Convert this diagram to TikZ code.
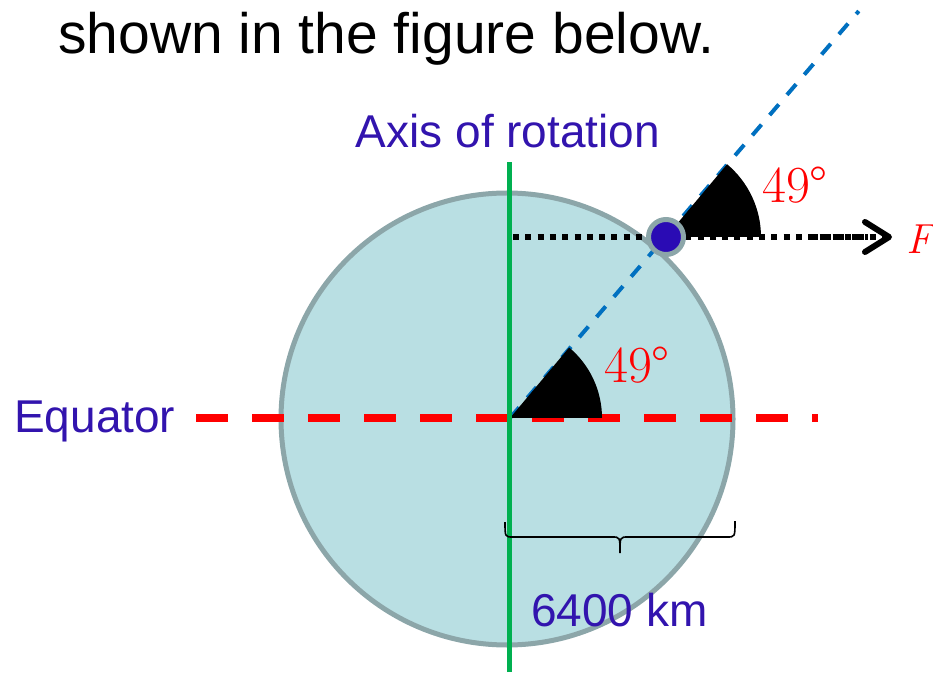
\documentclass[tikz,border=0pt]{standalone}
\usepackage{fontspec}
\newfontfamily\arialfont{Liberation Sans}
\usetikzlibrary{arrows.meta}
\definecolor{earthfill}{HTML}{B9DFE3}
\definecolor{earthedge}{HTML}{8CA6A9}
\definecolor{axisgreen}{HTML}{00B050}
\definecolor{axisblue}{HTML}{0070C0}
\definecolor{textblue}{HTML}{3214AE}
\definecolor{dotblue}{HTML}{2A0BB4}
\tikzset{
  bluetext/.style={font=\arialfont\fontsize{46}{52}\selectfont, text=textblue, inner sep=0pt, anchor=base west},
  angletext/.style={font=\fontsize{52}{56}\selectfont, text=red, inner sep=0pt, anchor=base west},
  earth/.style={circle, fill=earthfill, draw=earthedge, line width=5pt, minimum size=452pt, inner sep=0pt},
  equatorline/.style={red, line width=8.5pt, dash pattern=on 32pt off 24pt},
  incline/.style={axisblue, line width=4pt, dash pattern=on 14pt off 12.6pt},
  rotaxis/.style={axisgreen, line width=5pt},
  wedge/.style={fill=black},
  dotline/.style={line width=6pt, dash pattern=on 6pt off 6.3pt},
  denseline/.style={line width=6pt, dash pattern=on 5pt off 1.5pt},
  forcetip/.style={-{Straight Barb[length=24pt,width=30pt,line width=6pt,round]}},
  massdot/.style={circle, fill=dotblue, draw=earthedge, line width=5pt, minimum size=35pt, inner sep=0pt},
  radiusbrace/.style={line width=1.6pt}
}
\begin{document}
\begin{tikzpicture}[x=1pt,y=1pt]
\useasboundingbox (0,0) rectangle (933,672);
% earth
\node[earth] (earth) at (507,253) {};
% coordinates
\coordinate (C) at (510,254);
\coordinate (P) at (666,435);
\coordinate (eqL) at (196,254);
\coordinate (eqR) at (818,254);
\coordinate (axBot) at (509,0);
\coordinate (axTop) at (509,510);
\coordinate (dotL) at (513,435);
\coordinate (tip) at (892,435);
\coordinate (denseA) at (813,435);
\coordinate (denseB) at (868,435);
\coordinate (brL) at (505,150);
\coordinate (brR) at (735,151);
\coordinate (brT) at (620,119);
% equator
\draw[equatorline] (eqL) -- (eqR);
% inclined line
\draw[incline] (C) -- ++(49.4:536);
% angle wedges
\fill[wedge] (C) -- ++(92,0) arc[start angle=0, end angle=50, radius=92] -- cycle;
\fill[wedge] (P) -- ++(95,0) arc[start angle=0, end angle=50, radius=95] -- cycle;
% rotation axis
\draw[rotaxis] (axBot) -- (axTop);
% force line
\draw[dotline, forcetip] (dotL) -- (tip);
\draw[denseline] (denseA) -- (denseB);
% mass
\node[massdot] (mass) at (P) {};
% brace
\draw[radiusbrace] (brL) .. controls (505,135) and (505,135) .. (513,135)
  -- (612,135) .. controls (620,135) and (620,135) .. (brT)
  .. controls (620,135) and (620,135) .. (628,135)
  -- (727,135) .. controls (735,135) and (735,135) .. (brR);
% texts
\node[anchor=base west, font=\arialfont\fontsize{57}{60}\selectfont, inner sep=0pt] (title) at (58,618) {shown in the figure below.};
\node[bluetext, anchor=base] (axislabel) at (508,524) {Axis of rotation};
\node[bluetext] (equatorlabel) at (14,239) {Equator};
\node[bluetext] (radiuslabel) at (531,46) {6400 km};
\node[angletext] (angleup) at (762,469) {49°};
\node[angletext] (anglelow) at (604,289) {49°};
\node[anchor=base west, font=\fontsize{42}{46}\selectfont\itshape, text=red, inner sep=0pt] (flabel) at (906,418) {F};
\end{tikzpicture}
\end{document}
